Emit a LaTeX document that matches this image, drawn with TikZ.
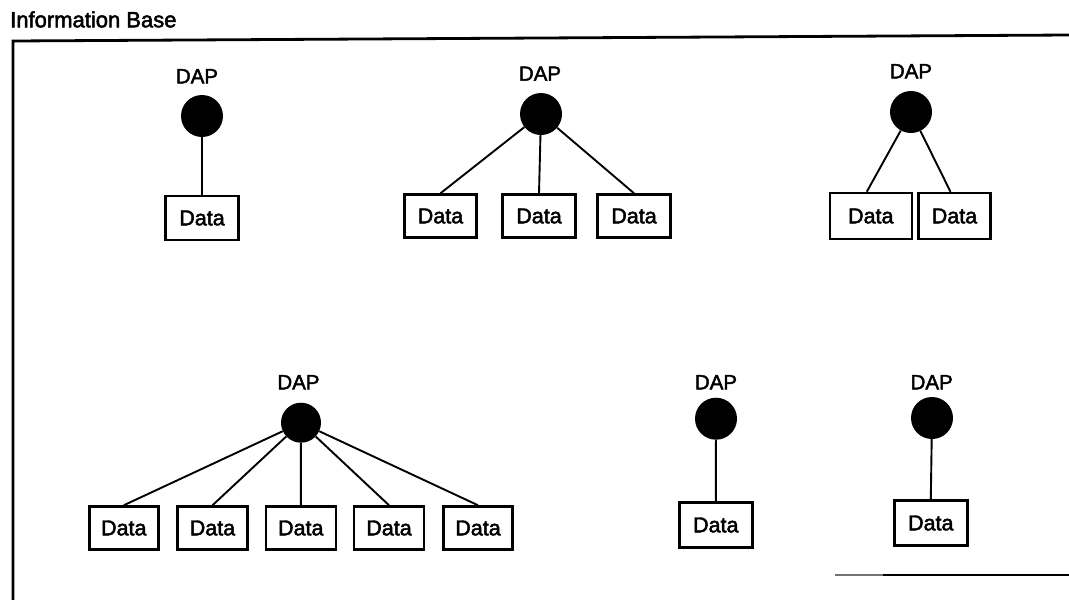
\documentclass[tikz,border=0pt]{standalone}
\usepackage{fontspec}
\setmainfont{Liberation Sans}
\newfontfamily\printfont{Liberation Sans}[FakeBold=2.2]
\begin{document}
\begin{tikzpicture}[x=1pt,y=-1pt,
  dap/.style={circle,fill=black,minimum size=42pt,inner sep=0pt},
  lbl/.style={anchor=base,inner sep=0pt,font=\printfont\fontsize{20.5}{20.5}\selectfont},
  databox/.style={draw,line width=2.5pt,minimum width=73pt,minimum height=44pt,
    inner sep=0pt,font=\printfont\fontsize{21.5}{21.5}\selectfont},
  link/.style={line width=1.9pt},
  edge/.style={line width=2.8pt}]
\useasboundingbox (0,0) rectangle (1069,600);

% title and enclosing frame
\node[anchor=base west,inner sep=0pt,font=\printfont\fontsize{22}{22}\selectfont] (title) at (10,27.3) {Information Base};
\draw[edge] (13,600) -- (13,41) -- (1069,35);
\draw[edge,black!55] (835,575) -- (883,575);
\draw[edge] (883,575) -- (1069,575);

% single DAP, upper left
\node[lbl] (l1) at (197,83.3) {DAP};
\node[dap] (c1) at (202,116) {};
\node[databox] (d1) at (202,218) {Data};
\draw[link] (c1) -- (d1.north);

% DAP with three data items
\node[lbl] (l2) at (540,80.7) {DAP};
\node[dap] (c2) at (541,114) {};
\node[databox,minimum width=72pt,minimum height=43pt] (d2a) at (440.5,216) {Data};
\node[databox,minimum height=43pt] (d2b) at (539,216) {Data};
\node[databox,minimum height=43pt] (d2c) at (634,216) {Data};
\draw[link] (c2) -- (d2a.north);
\draw[link] (c2) -- (d2b.north);
\draw[link] (c2) -- (d2c.north);

% DAP with two data items
\node[lbl] (l3) at (911,78.3) {DAP};
\node[dap] (c3) at (911,112) {};
\node[databox,minimum width=82pt,minimum height=46pt] (d3a) at (870.8,216) {Data};
\node[databox,minimum width=72pt,minimum height=46pt] (d3b) at (954.5,216) {Data};
\draw[link] (c3) -- ([xshift=-4pt]d3a.north);
\draw[link] (c3) -- ([xshift=-4pt]d3b.north);

% DAP with five data items
\node[lbl] (l4) at (298.5,389.3) {DAP};
\node[dap,minimum size=40pt] (c4) at (301,422.7) {};
\node[databox,minimum width=69pt,minimum height=43pt] (d4a) at (123.8,528) {Data};
\node[databox,minimum width=70pt,minimum height=43pt] (d4b) at (212.5,528) {Data};
\node[databox,minimum width=70pt,minimum height=43pt] (d4c) at (300.8,528) {Data};
\node[databox,minimum width=70pt,minimum height=43pt] (d4d) at (389,528) {Data};
\node[databox,minimum width=69pt,minimum height=43pt] (d4e) at (478,528) {Data};
\draw[link] (c4) -- (d4a.north);
\draw[link] (c4) -- (d4b.north);
\draw[link] (c4) -- (d4c.north);
\draw[link] (c4) -- (d4d.north);
\draw[link] (c4) -- (d4e.north);

% two single DAPs, lower right
\node[lbl] (l5) at (716,389.3) {DAP};
\node[dap] (c5) at (716,418.7) {};
\node[databox,minimum height=45pt] (d5) at (715.8,525) {Data};
\draw[link] (c5) -- (d5.north);

\node[lbl] (l6) at (931.7,389.3) {DAP};
\node[dap] (c6) at (932,418) {};
\node[databox,minimum height=45pt] (d6) at (930.8,523) {Data};
\draw[link] (c6) -- (d6.north);
\end{tikzpicture}
\end{document}
